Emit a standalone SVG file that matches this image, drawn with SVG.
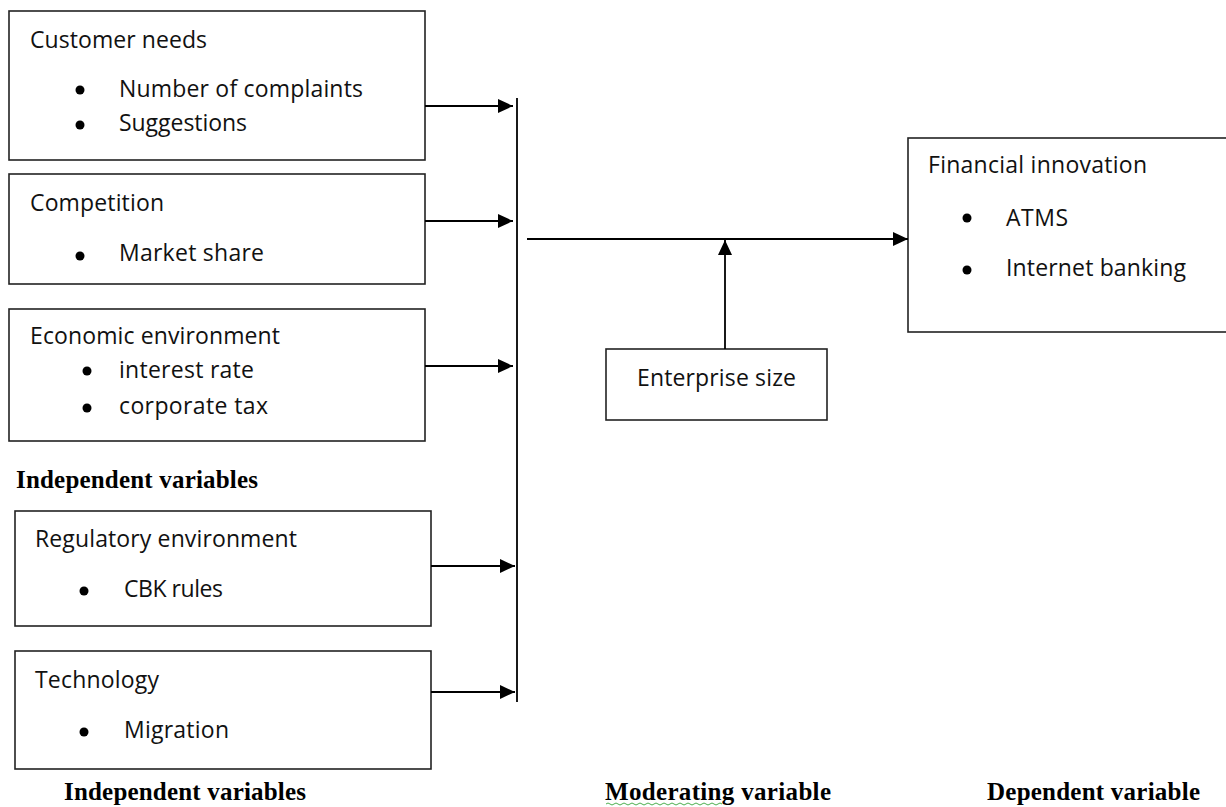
<svg xmlns="http://www.w3.org/2000/svg" width="1226" height="807" viewBox="0 0 1226 807">
<style>
.box{fill:#fff;stroke:#222;stroke-width:1.6}
.t{font-family:"Open Sans","Liberation Sans",sans-serif;font-size:23px;fill:#111}
.h{font-family:"Liberation Serif","Times New Roman",serif;font-size:25px;font-weight:bold;fill:#000}
.b{fill:#000}
.c{stroke:#000;stroke-width:1.8;fill:none;marker-end:url(#ah)}
.ln{stroke:#000;stroke-width:1.8;fill:none}
</style>
<defs>
<marker id="ah" markerUnits="userSpaceOnUse" markerWidth="16" markerHeight="14" refX="15" refY="7" orient="auto">
<path d="M0,0 L15,7 L0,14 z" fill="#000"/>
</marker>
</defs>
<rect width="1226" height="807" fill="#fff"/>
<g id="customer-needs">
<rect class="box" x="9" y="11" width="416" height="149"/>
<text class="t" x="30" y="48" textLength="177" lengthAdjust="spacing">Customer needs</text>
<circle class="b" cx="80" cy="90" r="4.5"/>
<text class="t" x="119" y="97" textLength="244" lengthAdjust="spacing">Number of complaints</text>
<circle class="b" cx="80" cy="125" r="4.5"/>
<text class="t" x="119" y="131" textLength="128" lengthAdjust="spacing">Suggestions</text>
</g>
<g id="competition">
<rect class="box" x="9" y="174" width="416" height="110"/>
<text class="t" x="30" y="211" textLength="134" lengthAdjust="spacing">Competition</text>
<circle class="b" cx="80" cy="256" r="4.5"/>
<text class="t" x="119" y="261" textLength="145" lengthAdjust="spacing">Market share</text>
</g>
<g id="economic-environment">
<rect class="box" x="9" y="309" width="416" height="132"/>
<text class="t" x="30" y="344" textLength="250" lengthAdjust="spacing">Economic environment</text>
<circle class="b" cx="87" cy="371" r="4.5"/>
<text class="t" x="119" y="378" textLength="135" lengthAdjust="spacing">interest rate</text>
<circle class="b" cx="87" cy="408" r="4.5"/>
<text class="t" x="119" y="414" textLength="149" lengthAdjust="spacing">corporate tax</text>
</g>
<text class="h" x="16" y="488" textLength="242" lengthAdjust="spacing">Independent variables</text>
<g id="regulatory-environment">
<rect class="box" x="15" y="511" width="416" height="115"/>
<text class="t" x="35" y="547" textLength="262" lengthAdjust="spacing">Regulatory environment</text>
<circle class="b" cx="84" cy="591" r="4.5"/>
<text class="t" x="124" y="597" textLength="99" lengthAdjust="spacing">CBK rules</text>
</g>
<g id="technology">
<rect class="box" x="15" y="651" width="416" height="118"/>
<text class="t" x="35" y="688" textLength="124" lengthAdjust="spacing">Technology</text>
<circle class="b" cx="84" cy="732" r="4.5"/>
<text class="t" x="124" y="738" textLength="105" lengthAdjust="spacing">Migration</text>
</g>
<text class="h" x="64" y="800" textLength="242" lengthAdjust="spacing">Independent variables</text>
<g id="financial-innovation">
<rect class="box" x="908" y="138" width="330" height="194"/>
<text class="t" x="928" y="173" textLength="219" lengthAdjust="spacing">Financial innovation</text>
<circle class="b" cx="967" cy="218" r="4.5"/>
<text class="t" x="1006" y="226" textLength="62" lengthAdjust="spacing">ATMS</text>
<circle class="b" cx="967" cy="270" r="4.5"/>
<text class="t" x="1006" y="276" textLength="180" lengthAdjust="spacing">Internet banking</text>
</g>
<g id="enterprise-size">
<rect class="box" x="606" y="349" width="221" height="71"/>
<text class="t" x="637" y="386" textLength="159" lengthAdjust="spacing">Enterprise size</text>
</g>
<g id="connectors">
<line class="ln" x1="517" y1="98" x2="517" y2="702"/>
<line class="c" x1="425" y1="106" x2="513" y2="106"/>
<line class="c" x1="425" y1="221" x2="513" y2="221"/>
<line class="c" x1="425" y1="366" x2="513" y2="366"/>
<line class="c" x1="431" y1="566" x2="515" y2="566"/>
<line class="c" x1="431" y1="692" x2="515" y2="692"/>
<line class="c" x1="527" y1="239" x2="908" y2="239"/>
<line class="c" x1="725" y1="349" x2="725" y2="240"/>
</g>
<text class="h" x="605" y="800" textLength="226" lengthAdjust="spacing">Moderating variable</text>
<path d="M606,804 q2,-2 4,0 t4,0 t4,0 t4,0 t4,0 t4,0 t4,0 t4,0 t4,0 t4,0 t4,0 t4,0 t4,0 t4,0 t4,0 t4,0 t4,0 t4,0 t4,0 t4,0 t4,0 t4,0 t4,0 t4,0 t4,0 t4,0 t4,0 t4,0 t4,0" fill="none" stroke="#4caf50" stroke-width="1"/>
<text class="h" x="987" y="800" textLength="213" lengthAdjust="spacing">Dependent variable</text>
</svg>
